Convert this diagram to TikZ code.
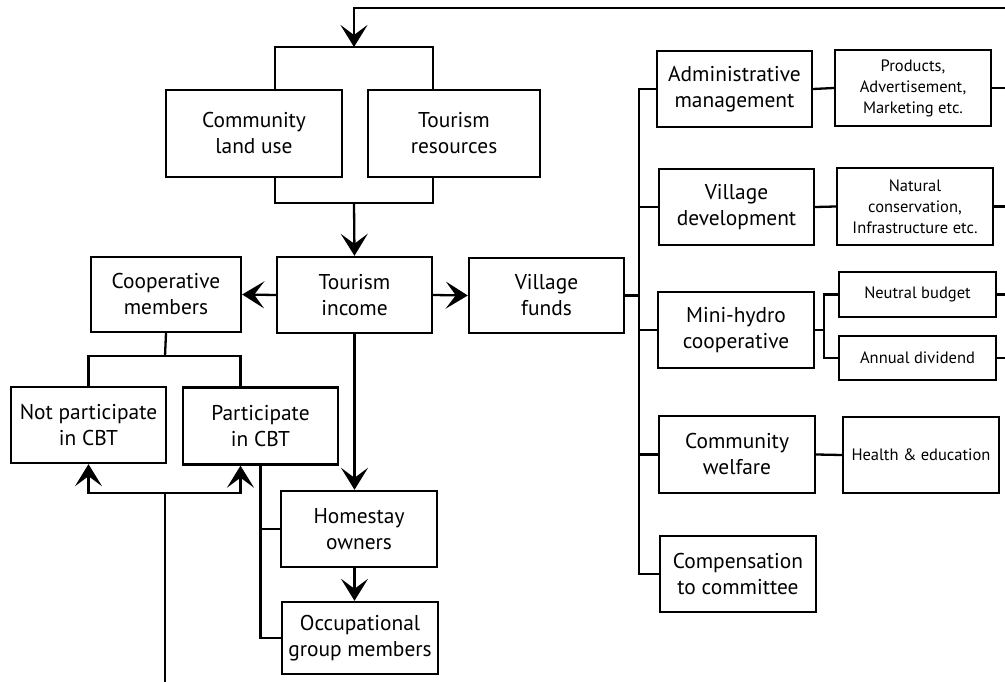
\documentclass[tikz,border=0pt]{standalone}
\usepackage{fontspec}
\setmainfont{PT Sans}
\usetikzlibrary{arrows.meta,calc}

\tikzset{
  box/.style={draw, line width=2.4pt, rectangle, align=center, inner sep=0pt,
    font=\fontsize{21.4}{26}\selectfont},
  smallbox/.style={box, font=\fontsize{16.5}{21}\selectfont},
  link/.style={line width=2.3pt},
  arr/.style={link, -{Stealth[length=22pt,width=27pt,inset=10pt]}},
}

\begin{document}
\begin{tikzpicture}[x=1pt,y=-1pt]
\useasboundingbox (0,0) rectangle (1005,682);

% ---- left block: resources and income
\node[box, minimum width=176pt, minimum height=87pt] (cland) at (254,133.5) {Community\\land use};
\node[box, minimum width=172pt, minimum height=87pt] (tres)  at (454,133.5) {Tourism\\resources};
\node[box, minimum width=155pt, minimum height=76pt] (tinc)  at (354.5,295) {Tourism\\income};
\node[box, minimum width=150pt, minimum height=75pt] (coop)  at (166,294.5) {Cooperative\\members};
\node[box, minimum width=155pt, minimum height=75pt] (vfund) at (546.5,295.5) {Village\\funds};
\node[box, minimum width=155pt, minimum height=76pt] (notp)  at (88.5,425) {Not participate\\in CBT};
\node[box, minimum width=155pt, minimum height=77pt] (part)  at (260.5,426) {Participate\\in CBT};
\node[box, minimum width=156pt, minimum height=76pt] (home)  at (359,529) {Homestay\\owners};
\node[box, minimum width=156pt, minimum height=72pt] (occ)   at (360,638) {Occupational\\group members};

% ---- right block: use of village funds
\node[box, minimum width=155pt, minimum height=76pt] (admin) at (734.5,89) {Administrative\\management};
\node[smallbox, minimum width=156pt, minimum height=76pt] (prod) at (913,88) {Products,\\Advertisement,\\Marketing etc.};
\node[box, minimum width=155pt, minimum height=76pt] (vdev) at (736.5,207) {Village\\development};
\node[smallbox, minimum width=156pt, minimum height=77pt] (nat) at (915,206.5) {Natural\\conservation,\\Infrastructure etc.};
\node[box, minimum width=156pt, minimum height=76pt] (mini) at (736,330) {Mini-hydro\\cooperative};
\node[smallbox, minimum width=157pt, minimum height=45pt] (neut) at (917.5,294.5) {Neutral budget};
\node[smallbox, minimum width=157pt, minimum height=44pt] (annual) at (917.5,358) {Annual dividend};
\node[box, minimum width=156pt, minimum height=77pt] (cwel) at (737,454.5) {Community\\welfare};
\node[smallbox, minimum width=156pt, minimum height=76pt] (health) at (921,455) {Health \& education};
\node[box, minimum width=156pt, minimum height=76pt] (comp) at (738,574) {Compensation\\to committee};

% ---- junction points
\coordinate (topR) at (1005,8);
\coordinate (topjoin) at (354,47);
\coordinate (midjoin) at (354,203);
\coordinate (edge) at (1005,0);
\coordinate (trunk) at (639,0);
\coordinate (msplit) at (824,330);
\coordinate (cj) at (165,356);
\coordinate (fbin) at (165,682);
\coordinate (fbj) at (165,493);

% ---- feedback into the land / resources pair
\draw[arr, line width=2.9pt] (topR) -| (topjoin);
\draw[link] ([xshift=21pt]cland.north) |- (topjoin) -| ([xshift=-21pt]tres.north);

% ---- resources into income
\draw[link] ([xshift=21pt]cland.south) |- (midjoin) -| ([xshift=-21pt]tres.south);
\draw[arr] (midjoin) -- (tinc.north);

% ---- income split
\draw[arr] (tinc.west) -- (coop.east);
\draw[arr] (tinc.east) -- (vfund.west);
\draw[arr] (tinc.south) -- (tinc.south |- home.north);
\draw[arr] (home.south -| tinc.south) -- (occ.north -| tinc.south);

% ---- cooperative members
\draw[link] (coop.south) -- (cj);
\draw[link] (notp.north) |- (cj) -| ([xshift=-20pt]part.north);
\draw[link] (fbin) -- (fbj);
\draw[arr] (fbj) -| (notp.south);
\draw[arr] (fbj) -| ([xshift=-20pt]part.south);
\draw[link] (part.south) |- (home.west);
\draw[link] (part.south) |- (occ.west);

% ---- village funds distribution
\draw[link] (vfund.east) -- (vfund.east -| trunk);
\draw[link] (admin.west) -- (admin.west -| trunk) -- (comp.west -| trunk) -- (comp.west);
\draw[link] (vdev.west) -- (vdev.west -| trunk);
\draw[link] (mini.west) -- (mini.west -| trunk);
\draw[link] (cwel.west) -- (cwel.west -| trunk);

\draw[link] (admin.east) -- (prod.west);
\draw[link] (vdev.east) -- (nat.west);
\draw[link] (mini.east) -- (msplit);
\draw[link] (neut.west) -| (msplit) |- (annual.west);
\draw[link] (cwel.east) -- (health.west);

% ---- outgoing lines on the right
\draw[link] (prod.east) -- (prod.east -| edge);
\draw[link] (nat.east) -- (nat.east -| edge);
\draw[link] (neut.east) -- (neut.east -| edge);
\draw[link] (annual.east) -- (annual.east -| edge);
\end{tikzpicture}
\end{document}
